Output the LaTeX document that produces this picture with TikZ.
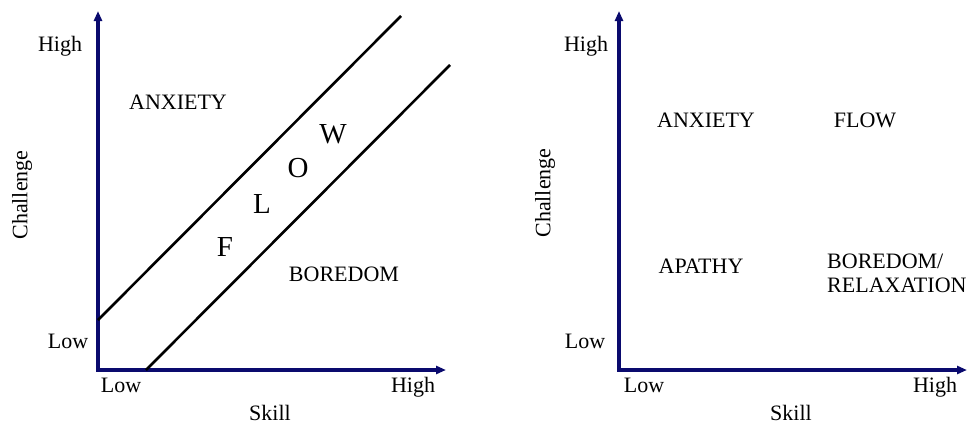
\documentclass[tikz,border=0pt]{standalone}
\usepackage{fontspec}
\setmainfont{Liberation Serif}
\usetikzlibrary{arrows.meta}
\definecolor{axisblue}{RGB}{10,10,110}
\tikzset{
  axisline/.style={draw=axisblue, line width=3.2pt, line join=miter,
    {Triangle[length=10pt,width=8pt]}-{Triangle[length=10pt,width=8pt]}},
  diag/.style={draw=black, line width=2.6pt},
  lbl/.style={anchor=base, inner sep=0pt, font=\fontsize{22}{24}\selectfont},
  lbll/.style={anchor=base west, inner sep=0pt, font=\fontsize{22}{24}\selectfont},
  big/.style={anchor=base, inner sep=0pt, font=\fontsize{29}{32}\selectfont},
  rot/.style={rotate=90, inner sep=0pt, font=\fontsize{22}{24}\selectfont}
}
\begin{document}
\begin{tikzpicture}[x=1pt,y=-1pt]
\useasboundingbox (0,0) rectangle (980,423);
% left plot
\coordinate (lytop) at (98,11);
\coordinate (lo) at (98,370);
\coordinate (lxend) at (446,370);
\draw[axisline] (lytop) -- (lo) -- (lxend);
\coordinate (u1) at (98,320);
\coordinate (u2) at (401,16);
\coordinate (d1) at (146,370);
\coordinate (d2) at (450,65);
\draw[diag] (u1) -- (u2);
\draw[diag] (d1) -- (d2);
\node[lbl] (lhigh) at (60,51) {High};
\node[lbl] (llow) at (68,348) {Low};
\node[rot] (lchal) at (22,195) {Challenge};
\node[lbl] (lxlow) at (121,392) {Low};
\node[lbl] (lxhigh) at (413,392) {High};
\node[lbl] (lskill) at (270,420) {Skill};
\node[lbl] (lanx) at (178,109) {ANXIETY};
\node[lbl] (lbor) at (344,281) {BOREDOM};
\node[big] (fF) at (225,256) {F};
\node[big] (fL) at (262,213) {L};
\node[big] (fO) at (298,177) {O};
\node[big] (fW) at (333,143) {W};
% right plot
\coordinate (rytop) at (619,11);
\coordinate (ro) at (619,370);
\coordinate (rxend) at (967,370);
\draw[axisline] (rytop) -- (ro) -- (rxend);
\node[lbl] (rhigh) at (586,51) {High};
\node[lbl] (rlow) at (585,348) {Low};
\node[rot] (rchal) at (545,193) {Challenge};
\node[lbl] (rxlow) at (644,392) {Low};
\node[lbl] (rxhigh) at (935,392) {High};
\node[lbl] (rskill) at (791,420) {Skill};
\node[lbl] (ranx) at (706,127) {ANXIETY};
\node[lbl] (rflow) at (865,127) {FLOW};
\node[lbl] (rapa) at (701,273) {APATHY};
\node[lbll] (rbor) at (827,268) {BOREDOM/};
\node[lbll] (rrel) at (827,292) {RELAXATION};
\end{tikzpicture}
\end{document}
